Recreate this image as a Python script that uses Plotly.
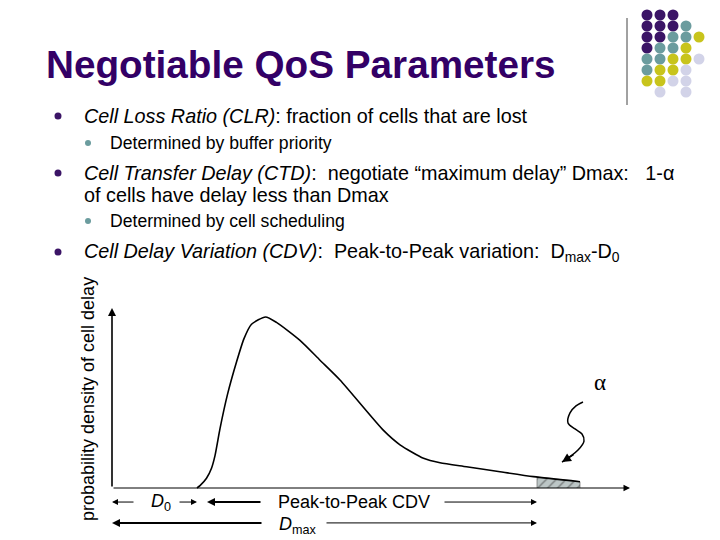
import numpy as np
import plotly.graph_objects as go

# probability density of cell delay (delay in arbitrary units)
delay = [17, 17.6, 18.9, 19.9, 20.6, 21.6, 23.1, 24.9, 26.4, 27.9, 30.7, 32.9,
         37.6, 41.6, 45.6, 54.3, 57.6, 62.3, 65.6, 70.9, 77.6, 84.3, 93.6]
density = [0, 0.013, 0.054, 0.11, 0.18, 0.33, 0.52, 0.70, 0.83, 0.91, 0.95, 0.92,
           0.82, 0.71, 0.60, 0.32, 0.24, 0.165, 0.14, 0.118, 0.09, 0.063, 0.035]
d0 = 17
dmax = 85
axis_end = 103.6

# wavy pointer towards the alpha tail
pointer_x = [94.2, 92.8, 91.6, 91.2, 92.6, 94.0, 94.4, 93.2, 90.0]
pointer_y = [0.478, 0.456, 0.417, 0.361, 0.328, 0.300, 0.261, 0.211, 0.144]

# decorative dot grid, top right corner
dot_rows = ["PPP", "PPPT", "PPTTY", "PTTY", "TTYYL", "TYYL", "YYLL", ".L.L"]
dot_colors = {"P": "#3b1466", "T": "#6b9c9e", "Y": "#c8c41c", "L": "#d2d3e8"}

PURPLE = "#330066"
FONT = "Liberation Sans, Arial, sans-serif"
OFF = 8  # page body margin
W, H = 720 - OFF, 540 - OFF


def px(x):
    return (x - OFF) / W


def py(y):
    return 1 - (y - OFF) / H


fig = go.Figure()

# tail area (alpha)
tail_x = [dmax] + [d for d in delay if d > dmax]
tail_y = [float(np.interp(dmax, delay, density))] + [v for d, v in zip(delay, density) if d > dmax]
fig.add_trace(go.Scatter(
    x=[dmax] + tail_x + [tail_x[-1]], y=[0] + tail_y + [0],
    mode="lines", fill="toself", line=dict(width=0.6, color="#555555"),
    fillcolor="#bcc6c6",
    fillpattern=dict(shape="/", size=7, solidity=0.2, fgcolor="#333333", bgcolor="#bcc6c6"),
    hoverinfo="skip", showlegend=False))

fig.add_trace(go.Scatter(x=delay, y=density, mode="lines",
                         line=dict(color="black", width=1.6, shape="spline", smoothing=0.6),
                         hoverinfo="skip", showlegend=False))

fig.add_trace(go.Scatter(x=pointer_x, y=pointer_y, mode="lines",
                         line=dict(color="black", width=1.5, shape="spline"),
                         hoverinfo="skip", showlegend=False))

# dot grid
dx, dy, dc = [], [], []
for r, row in enumerate(dot_rows):
    for c, k in enumerate(row):
        if k in dot_colors:
            dx.append(c)
            dy.append(r)
            dc.append(dot_colors[k])
fig.add_trace(go.Scatter(x=dx, y=dy, mode="markers", xaxis="x2", yaxis="y2",
                         marker=dict(size=11, color=dc, line=dict(width=0)),
                         hoverinfo="skip", showlegend=False))

ann = []


def arrow(x0, y0, x1, y1, w=1.0, head=2, size=1.0):
    ann.append(dict(x=x1, y=y1, ax=x0, ay=y0, xref="x", yref="y", axref="x", ayref="y",
                    text="", showarrow=True, arrowhead=head, arrowwidth=w, arrowsize=size,
                    arrowcolor="black"))


# axes
arrow(0, 0, axis_end, 0, w=1.0, size=1.3)
arrow(0, 0, 0, 1.0, w=1.6, size=1.0)

# bottom arrows
row1 = -0.078
row2 = -0.194
arrow(4.6, row1, 0, row1, w=1.0, size=1.2)
arrow(13.2, row1, d0, row1, w=1.0, size=1.2)
arrow(30, row1, d0 + 2, row1, w=2.0, size=0.8)
arrow(66.2, row1, dmax, row1, w=1.0, size=1.2)
arrow(30.2, row2, 0, row2, w=2.0, size=0.8)
arrow(42.6, row2, dmax, row2, w=1.0, size=1.2)

# pointer head
arrow(pointer_x[-2] - 0.6, pointer_y[-2] - 0.02, pointer_x[-1], pointer_y[-1], w=1.5, size=1.2)

ann.append(dict(x=d0 / 2 + 1.2, y=row1, xref="x", yref="y", showarrow=False,
                xanchor="center", yanchor="middle",
                text="<i>D</i><sub>0</sub>", font=dict(family=FONT, size=18, color="black")))
ann.append(dict(x=(d0 + dmax) / 2 - 2.6, y=row1, xref="x", yref="y", showarrow=False,
                xanchor="center", yanchor="middle",
                text="Peak-to-Peak CDV", font=dict(family=FONT, size=18, color="black")))
ann.append(dict(x=37, y=row2 - 0.012, xref="x", yref="y", showarrow=False,
                xanchor="center", yanchor="middle",
                text="<i>D</i><sub>max</sub>", font=dict(family=FONT, size=18, color="black")))
ann.append(dict(x=97.6, y=0.585, xref="x", yref="y", showarrow=False,
                xanchor="center", yanchor="middle",
                text="α", font=dict(family="Liberation Serif, Times New Roman, serif", size=23, color="black")))

# y label
ann.append(dict(x=px(88), y=py(399), xref="paper", yref="paper", showarrow=False, textangle=-90,
                xanchor="center", yanchor="middle",
                text="probability density of cell delay",
                font=dict(family=FONT, size=18, color="black")))

# slide title and bullets
ann.append(dict(x=px(44), y=py(65), xref="paper", yref="paper", showarrow=False,
                xanchor="left", yanchor="middle",
                text="<b>Negotiable QoS Parameters</b>",
                font=dict(family=FONT, size=38.7, color=PURPLE)))

lines = [
    (82, 116, 19.8, "<i>Cell Loss Ratio (CLR)</i>: fraction of cells that are lost"),
    (108, 143, 17.6, "Determined by buffer priority"),
    (82, 173, 19.8, "<i>Cell Transfer Delay (CTD)</i>:\u00a0 negotiate “maximum delay” Dmax:\u00a0\u00a0 1-α"),
    (82, 195, 19.8, "of cells have delay less than Dmax"),
    (108, 221, 17.6, "Determined by cell scheduling"),
    (82, 252, 19.8, "<i>Cell Delay Variation (CDV)</i>:\u00a0 Peak-to-Peak variation:\u00a0 D<sub>max</sub>-D<sub>0</sub>"),
]
for x, y, s, t in lines:
    ann.append(dict(x=px(x), y=py(y), xref="paper", yref="paper", showarrow=False,
                    xanchor="left", yanchor="middle", text=t,
                    font=dict(family=FONT, size=s, color="black")))

shapes = []
for y in (116, 173, 252):
    shapes.append(dict(type="circle", xref="paper", yref="paper",
                       x0=px(54.5), x1=px(61.5), y0=py(y + 3.5), y1=py(y - 3.5),
                       fillcolor="#3b1466", line=dict(width=0)))
for y in (143, 221):
    shapes.append(dict(type="circle", xref="paper", yref="paper",
                       x0=px(85), x1=px(91), y0=py(y + 3), y1=py(y - 3),
                       fillcolor="#6b9c9e", line=dict(width=0)))
shapes.append(dict(type="line", xref="paper", yref="paper",
                   x0=px(627), x1=px(627), y0=py(18), y1=py(105),
                   line=dict(color="#444444", width=1)))

# data axes: 5 px per delay unit, origin at (112, 488) on the page
x_lo = -(112 - OFF) / 5
y_lo = -(540 - 488) / 180
# dot grid: 13 px per column from x=647, 11 px per row from y=15
fig.update_layout(
    width=W, height=H, margin=dict(l=0, r=0, t=0, b=0),
    paper_bgcolor="white", plot_bgcolor="white",
    xaxis=dict(visible=False, range=[x_lo, x_lo + W / 5], domain=[0, 1], fixedrange=True),
    yaxis=dict(visible=False, range=[y_lo, y_lo + H / 180], domain=[0, 1], fixedrange=True),
    xaxis2=dict(visible=False, range=[-1, 5], domain=[px(634), px(712)], anchor="y2"),
    yaxis2=dict(visible=False, range=[8, -(15 - OFF) / 11], domain=[py(103), 1], anchor="x2"),
    annotations=ann, shapes=shapes, showlegend=False,
)

fig.write_html("out.html")
